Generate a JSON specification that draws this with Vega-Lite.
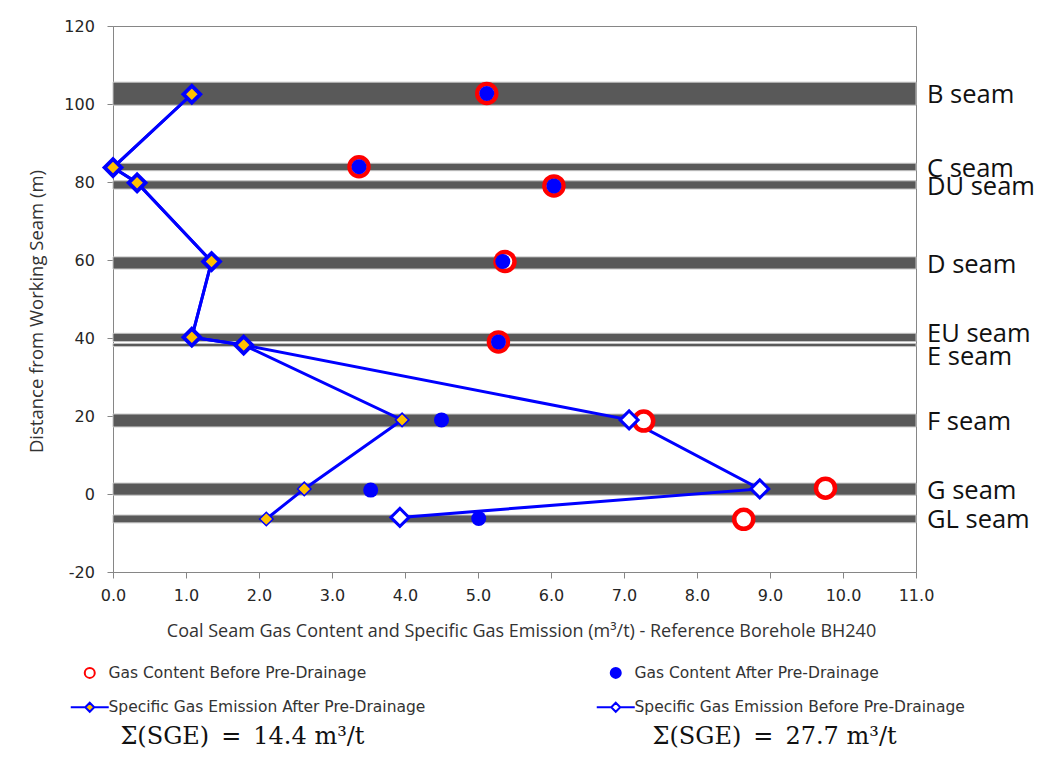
{
  "$schema": "https://vega.github.io/schema/vega-lite/v6.json",
  "width": 803,
  "height": 546,
  "padding": {"left": 27, "top": 18, "right": 5, "bottom": 5},
  "background": "white",
  "title": {
    "text": "Σ(SGE)\u2002=\u200214.4 m³/t\u2003\u2003\u2003\u2003\u2003\u2003\u2003\u2003\u2003\u2003\u2003\u2003Σ(SGE)\u2002=\u200227.7 m³/t",
    "orient": "bottom",
    "anchor": "middle",
    "font": "DejaVu Serif",
    "fontSize": 24,
    "fontWeight": "normal",
    "color": "#111111",
    "offset": 9,
    "dx": -6
  },
  "datasets": {
    "seams": [
      {"seam": "B", "label": "B seam", "top": 105.6, "bottom": 99.7, "mid": 102.6},
      {"seam": "C", "label": "C seam", "top": 84.8, "bottom": 82.9, "mid": 83.8},
      {"seam": "DU", "label": "DU seam", "top": 80.3, "bottom": 78.2, "mid": 79.2},
      {"seam": "D", "label": "D seam", "top": 60.8, "bottom": 57.7, "mid": 59.2},
      {"seam": "EU", "label": "EU seam", "top": 41.2, "bottom": 39.1, "mid": 40.1},
      {"seam": "E", "label": "E seam", "top": 38.6, "bottom": 37.8, "mid": 38.2},
      {"seam": "F", "label": "F seam", "top": 20.5, "bottom": 17.2, "mid": 18.8},
      {"seam": "G", "label": "G seam", "top": 2.8, "bottom": -0.3, "mid": 1.2},
      {"seam": "GL", "label": "GL seam", "top": -5.4, "bottom": -7.4, "mid": -6.4}
    ],
    "pts": [
      {"seam": "B", "series": "Gas Content Before Pre-Drainage", "value": 5.12, "depth": 102.7},
      {"seam": "C", "series": "Gas Content Before Pre-Drainage", "value": 3.37, "depth": 83.9},
      {"seam": "DU", "series": "Gas Content Before Pre-Drainage", "value": 6.04, "depth": 79.0},
      {"seam": "D", "series": "Gas Content Before Pre-Drainage", "value": 5.37, "depth": 59.6},
      {"seam": "EU", "series": "Gas Content Before Pre-Drainage", "value": 5.28, "depth": 39.0},
      {"seam": "F", "series": "Gas Content Before Pre-Drainage", "value": 7.27, "depth": 18.7},
      {"seam": "G", "series": "Gas Content Before Pre-Drainage", "value": 9.76, "depth": 1.5},
      {"seam": "GL", "series": "Gas Content Before Pre-Drainage", "value": 8.64, "depth": -6.5},
      {"seam": "B", "series": "Gas Content After Pre-Drainage", "value": 5.12, "depth": 102.7},
      {"seam": "C", "series": "Gas Content After Pre-Drainage", "value": 3.37, "depth": 83.9},
      {"seam": "DU", "series": "Gas Content After Pre-Drainage", "value": 6.04, "depth": 79.0},
      {"seam": "D", "series": "Gas Content After Pre-Drainage", "value": 5.34, "depth": 59.6},
      {"seam": "EU", "series": "Gas Content After Pre-Drainage", "value": 5.28, "depth": 39.0},
      {"seam": "F", "series": "Gas Content After Pre-Drainage", "value": 4.50, "depth": 19.0},
      {"seam": "G", "series": "Gas Content After Pre-Drainage", "value": 3.53, "depth": 1.0},
      {"seam": "GL", "series": "Gas Content After Pre-Drainage", "value": 5.01, "depth": -6.3},
      {"seam": "B", "series": "Specific Gas Emission Before Pre-Drainage", "value": 1.08, "depth": 102.5},
      {"seam": "C", "series": "Specific Gas Emission Before Pre-Drainage", "value": 0.0, "depth": 83.7},
      {"seam": "DU", "series": "Specific Gas Emission Before Pre-Drainage", "value": 0.33, "depth": 79.8},
      {"seam": "D", "series": "Specific Gas Emission Before Pre-Drainage", "value": 1.35, "depth": 59.6},
      {"seam": "EU", "series": "Specific Gas Emission Before Pre-Drainage", "value": 1.08, "depth": 40.2},
      {"seam": "E", "series": "Specific Gas Emission Before Pre-Drainage", "value": 1.79, "depth": 38.2},
      {"seam": "F", "series": "Specific Gas Emission Before Pre-Drainage", "value": 7.07, "depth": 19.0},
      {"seam": "G", "series": "Specific Gas Emission Before Pre-Drainage", "value": 8.86, "depth": 1.3},
      {"seam": "GL", "series": "Specific Gas Emission Before Pre-Drainage", "value": 3.93, "depth": -6.0},
      {"seam": "B", "series": "Specific Gas Emission After Pre-Drainage", "value": 1.08, "depth": 102.5},
      {"seam": "C", "series": "Specific Gas Emission After Pre-Drainage", "value": 0.0, "depth": 83.7},
      {"seam": "DU", "series": "Specific Gas Emission After Pre-Drainage", "value": 0.33, "depth": 79.8},
      {"seam": "D", "series": "Specific Gas Emission After Pre-Drainage", "value": 1.35, "depth": 59.6},
      {"seam": "EU", "series": "Specific Gas Emission After Pre-Drainage", "value": 1.08, "depth": 40.2},
      {"seam": "E", "series": "Specific Gas Emission After Pre-Drainage", "value": 1.79, "depth": 38.2},
      {"seam": "F", "series": "Specific Gas Emission After Pre-Drainage", "value": 3.96, "depth": 19.0},
      {"seam": "G", "series": "Specific Gas Emission After Pre-Drainage", "value": 2.62, "depth": 1.3},
      {"seam": "GL", "series": "Specific Gas Emission After Pre-Drainage", "value": 2.10, "depth": -6.4}
    ]
  },
  "layer": [
    {
      "data": {"name": "seams"},
      "mark": {"type": "rect", "fill": "#595959", "stroke": "#c4c4c4", "strokeWidth": 1},
      "encoding": {
        "x": {"datum": 0, "type": "quantitative", "title": "Coal Seam Gas Content and Specific Gas Emission (m³/t) - Reference Borehole BH240",
              "scale": {"domain": [0, 11], "nice": false, "zero": false},
              "axis": {"values": [0, 1, 2, 3, 4, 5, 6, 7, 8, 9, 10, 11], "format": ".1f", "titleX": 408, "labelFlush": false}},
        "x2": {"datum": 11},
        "y": {"field": "top", "type": "quantitative", "title": "Distance from Working Seam (m)",
              "scale": {"domain": [-20, 120], "nice": false, "zero": false},
              "axis": {"values": [-20, 0, 20, 40, 60, 80, 100, 120], "labelExpr": "datum.value < 0 ? '-' + abs(datum.value) : datum.label", "titleY": 285, "labelFlush": false}},
        "y2": {"field": "bottom"}
      }
    },
    {
      "data": {"name": "pts"},
      "transform": [{"filter": "indexof(datum.series, 'Specific') === 0"}],
      "mark": {"type": "line", "stroke": "#0000FF", "strokeWidth": 3},
      "encoding": {
        "x": {"field": "value", "type": "quantitative", "title": "Coal Seam Gas Content and Specific Gas Emission (m³/t) - Reference Borehole BH240"},
        "y": {"field": "depth", "type": "quantitative", "title": "Distance from Working Seam (m)"},
        "detail": {"field": "series", "type": "nominal"},
        "order": {"field": "depth", "type": "quantitative", "sort": "descending"}
      }
    },
    {
      "data": {"name": "pts"},
      "transform": [{"filter": "datum.series === 'Gas Content Before Pre-Drainage'"}],
      "mark": {"type": "point", "shape": "circle", "filled": true, "fill": "#ffffff", "stroke": "#FF0000", "strokeWidth": 4.5, "size": 361, "opacity": 1},
      "encoding": {
        "x": {"field": "value", "type": "quantitative", "title": "Coal Seam Gas Content and Specific Gas Emission (m³/t) - Reference Borehole BH240"},
        "y": {"field": "depth", "type": "quantitative", "title": "Distance from Working Seam (m)"}
      }
    },
    {
      "data": {"name": "pts"},
      "transform": [{"filter": "datum.series === 'Gas Content After Pre-Drainage'"}],
      "mark": {"type": "point", "shape": "circle", "filled": true, "fill": "#0000FF", "strokeWidth": 0, "size": 225, "opacity": 1},
      "encoding": {
        "x": {"field": "value", "type": "quantitative", "title": "Coal Seam Gas Content and Specific Gas Emission (m³/t) - Reference Borehole BH240"},
        "y": {"field": "depth", "type": "quantitative", "title": "Distance from Working Seam (m)"}
      }
    },
    {
      "data": {"name": "pts"},
      "transform": [{"filter": "datum.series === 'Specific Gas Emission Before Pre-Drainage'"}],
      "mark": {"type": "point", "shape": "diamond", "filled": true, "fill": "#ffffff", "stroke": "#0000FF", "strokeWidth": 3, "size": 324, "opacity": 1},
      "encoding": {
        "x": {"field": "value", "type": "quantitative", "title": "Coal Seam Gas Content and Specific Gas Emission (m³/t) - Reference Borehole BH240"},
        "y": {"field": "depth", "type": "quantitative", "title": "Distance from Working Seam (m)"}
      }
    },
    {
      "data": {"name": "pts"},
      "transform": [{"filter": "datum.series === 'Specific Gas Emission After Pre-Drainage'"}],
      "mark": {"type": "point", "shape": "diamond", "filled": true, "fill": "#FFC000", "stroke": "#0000FF", "strokeWidth": 1.5, "size": 182, "opacity": 1},
      "encoding": {
        "x": {"field": "value", "type": "quantitative", "title": "Coal Seam Gas Content and Specific Gas Emission (m³/t) - Reference Borehole BH240"},
        "y": {"field": "depth", "type": "quantitative", "title": "Distance from Working Seam (m)"}
      }
    },
    {
      "data": {"name": "pts"},
      "transform": [{"filter": "false"}],
      "mark": {"type": "point", "filled": true, "opacity": 1},
      "encoding": {
        "x": {"field": "value", "type": "quantitative", "title": "Coal Seam Gas Content and Specific Gas Emission (m³/t) - Reference Borehole BH240"},
        "y": {"field": "depth", "type": "quantitative", "title": "Distance from Working Seam (m)"},
        "shape": {
          "field": "series", "type": "nominal",
          "scale": {"domain": ["Gas Content Before Pre-Drainage", "Gas Content After Pre-Drainage", "Specific Gas Emission After Pre-Drainage", "Specific Gas Emission Before Pre-Drainage"],
                    "range": ["circle", "circle", "M-3.8,0L-0.9,0M0.9,0L3.8,0M0,-0.9L0.9,0L0,0.9L-0.9,0Z", "M-3.8,0L-0.9,0M0.9,0L3.8,0M0,-0.9L0.9,0L0,0.9L-0.9,0Z"]},
          "legend": {
            "title": null, "orient": "none", "legendX": -31, "legendY": 639, "direction": "horizontal",
            "columns": 2, "columnPadding": 166, "rowPadding": 16.5, "labelOffset": 11, "labelLimit": 600,
            "labelFont": "DejaVu Sans", "labelFontSize": 15.5, "labelColor": "#333333", "symbolSize": 100, "symbolStrokeWidth": 2, "symbolOpacity": 1, "padding": 0
          }
        },
        "fill": {
          "field": "series", "type": "nominal",
          "scale": {"domain": ["Gas Content Before Pre-Drainage", "Gas Content After Pre-Drainage", "Specific Gas Emission After Pre-Drainage", "Specific Gas Emission Before Pre-Drainage"],
                    "range": ["#ffffff", "#0000FF", "#FFC000", "#ffffff"]}
        },
        "stroke": {
          "field": "series", "type": "nominal",
          "scale": {"domain": ["Gas Content Before Pre-Drainage", "Gas Content After Pre-Drainage", "Specific Gas Emission After Pre-Drainage", "Specific Gas Emission Before Pre-Drainage"],
                    "range": ["#FF0000", "#0000FF", "#0000FF", "#0000FF"]}
        }
      }
    },
    {
      "data": {"name": "seams"},
      "transform": [{"filter": "datum.seam !== 'EU' && datum.seam !== 'E'"}],
      "mark": {"type": "text", "align": "left", "baseline": "middle", "dx": 11, "dy": 1.5, "font": "Open Sans", "fontSize": 25.5, "fill": "#111111"},
      "encoding": {
        "x": {"datum": 11, "type": "quantitative"},
        "y": {"field": "mid", "type": "quantitative", "title": "Distance from Working Seam (m)"},
        "text": {"field": "label"}
      }
    },
    {
      "data": {"name": "seams"},
      "transform": [{"filter": "datum.seam === 'EU'"}],
      "mark": {"type": "text", "align": "left", "baseline": "middle", "dx": 11, "dy": -4, "font": "Open Sans", "fontSize": 25.5, "fill": "#111111"},
      "encoding": {
        "x": {"datum": 11, "type": "quantitative"},
        "y": {"field": "mid", "type": "quantitative", "title": "Distance from Working Seam (m)"},
        "text": {"field": "label"}
      }
    },
    {
      "data": {"name": "seams"},
      "transform": [{"filter": "datum.seam === 'E'"}],
      "mark": {"type": "text", "align": "left", "baseline": "middle", "dx": 11, "dy": 12, "font": "Open Sans", "fontSize": 25.5, "fill": "#111111"},
      "encoding": {
        "x": {"datum": 11, "type": "quantitative"},
        "y": {"field": "mid", "type": "quantitative", "title": "Distance from Working Seam (m)"},
        "text": {"field": "label"}
      }
    }
  ],
  "config": {
    "view": {"stroke": "#868686", "strokeWidth": 1},
    "axis": {
      "grid": false,
      "domainColor": "#868686",
      "tickColor": "#868686",
      "tickSize": 6,
      "labelFont": "DejaVu Sans",
      "labelFontSize": 16,
      "labelColor": "#262626",
      "titleFont": "Open Sans",
      "titleFontSize": 18,
      "titleFontWeight": "normal",
      "titleColor": "#333333"
    },
    "axisX": {"labelPadding": 9, "titlePadding": 19},
    "axisY": {"labelPadding": 12.6, "titlePadding": 17, "titleFontSize": 18.5}
  }
}
